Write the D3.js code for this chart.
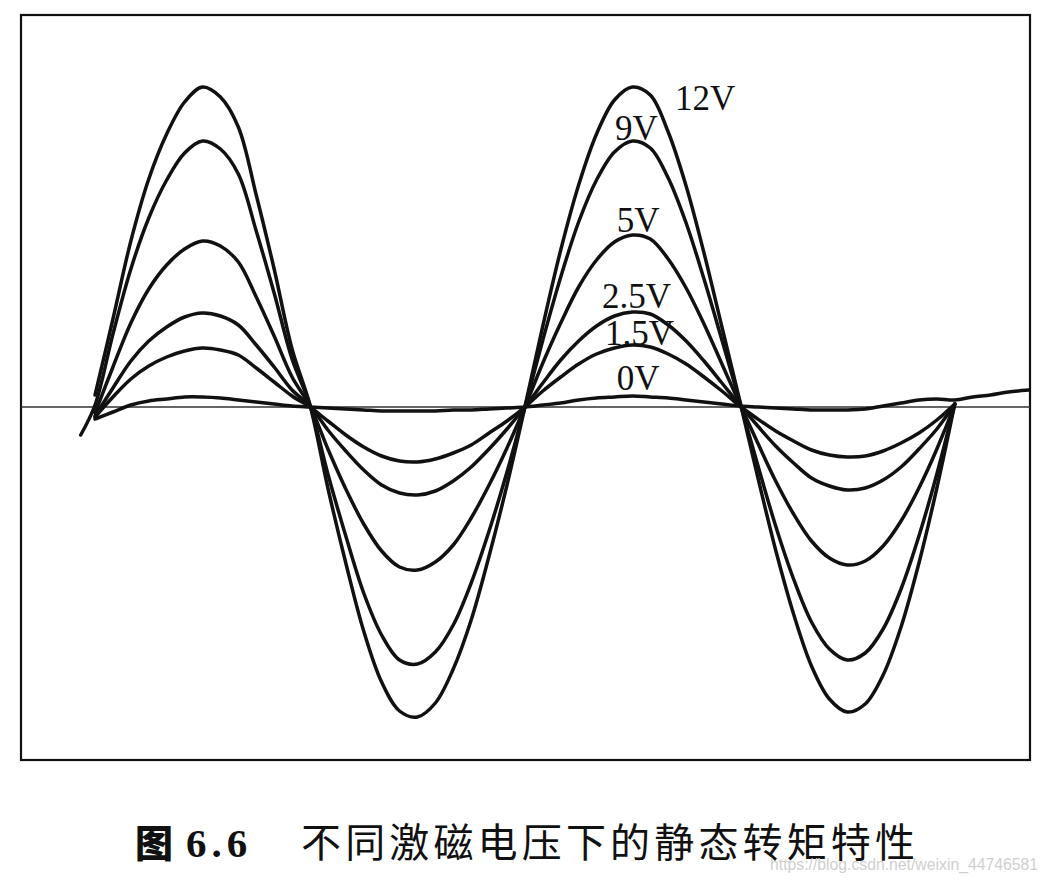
<!DOCTYPE html>
<html>
<head>
<meta charset="utf-8">
<script src="https://cdn.jsdelivr.net/npm/d3@7"></script>
<style>
  html, body { margin: 0; padding: 0; background: #fff; }
  svg { display: block; }
</style>
</head>
<body>
<svg id="chart" width="1047" height="883"></svg>
<script>
// ---- data (rotor angle in electrical degrees, torque in arbitrary units) ----
const angles = [-12, 0, 15, 30, 45, 60, 75, 90, 105, 120, 135, 150, 165, 180,
  195, 210, 225, 240, 255, 270, 285, 300, 315, 330, 345, 360,
  375, 390, 405, 420, 435, 450, 465, 480, 495, 510, 525, 540,
  555, 570, 585, 600, 615, 630, 645, 660, 675, 690, 705, 720,
  735, 750, 765, 782];

const seriesNames = ["12V", "9V", "5V", "2.5V", "1.5V", "0V"];

const torque12V = [null, 0.12, 0.88, 1.66, 2.28, 2.73, 3.05, 3.20, 3.10, 2.80, 2.12, 1.38, 0.58, 0.02,
  -0.81, -1.56, -2.24, -2.75, -3.04, -3.10, -2.96, -2.62, -2.13, -1.49, -0.78, 0.00,
  0.81, 1.57, 2.22, 2.73, 3.07, 3.20, 3.12, 2.75, 2.21, 1.54, 0.80, 0.06,
  -0.70, -1.43, -2.07, -2.59, -2.92, -3.05, -2.97, -2.68, -2.20, -1.56, -0.81, 0.03,
  null, null, null, null];
const torque9V = [-0.28, 0.02, 0.73, 1.38, 1.89, 2.27, 2.54, 2.66, 2.58, 2.33, 1.76, 1.14, 0.48, 0.02,
  -0.67, -1.29, -1.86, -2.28, -2.53, -2.57, -2.45, -2.18, -1.76, -1.24, -0.65, 0.00,
  0.67, 1.30, 1.85, 2.27, 2.55, 2.66, 2.59, 2.29, 1.84, 1.28, 0.67, 0.05,
  -0.58, -1.19, -1.72, -2.15, -2.42, -2.53, -2.46, -2.22, -1.82, -1.29, -0.67, 0.03,
  null, null, null, null];
const torque5V = [null, -0.06, 0.40, 0.84, 1.18, 1.42, 1.58, 1.66, 1.61, 1.45, 1.10, 0.71, 0.30, 0.01,
  -0.42, -0.82, -1.17, -1.44, -1.60, -1.63, -1.55, -1.38, -1.11, -0.78, -0.41, 0.00,
  0.44, 0.84, 1.20, 1.47, 1.65, 1.72, 1.68, 1.48, 1.19, 0.83, 0.43, 0.03,
  -0.36, -0.74, -1.07, -1.34, -1.51, -1.58, -1.54, -1.39, -1.14, -0.81, -0.42, 0.03,
  null, null, null, null];
const torque2_5V = [null, -0.09, 0.19, 0.46, 0.66, 0.80, 0.90, 0.94, 0.91, 0.82, 0.62, 0.40, 0.17, 0.01,
  -0.23, -0.44, -0.63, -0.78, -0.86, -0.88, -0.84, -0.74, -0.60, -0.42, -0.22, 0.00,
  0.24, 0.47, 0.66, 0.81, 0.91, 0.95, 0.93, 0.82, 0.66, 0.46, 0.24, 0.02,
  -0.19, -0.39, -0.56, -0.71, -0.79, -0.83, -0.81, -0.73, -0.60, -0.42, -0.22, 0.03,
  null, null, null, null];
const torque1_5V = [null, -0.10, 0.10, 0.28, 0.41, 0.50, 0.56, 0.59, 0.57, 0.52, 0.39, 0.25, 0.11, 0.00,
  -0.14, -0.28, -0.40, -0.49, -0.54, -0.55, -0.52, -0.46, -0.38, -0.26, -0.14, 0.00,
  0.16, 0.30, 0.43, 0.53, 0.59, 0.62, 0.60, 0.53, 0.43, 0.30, 0.16, 0.01,
  -0.12, -0.24, -0.34, -0.43, -0.48, -0.50, -0.49, -0.44, -0.36, -0.26, -0.13, 0.03,
  null, null, null, null];
const torque0V = [null, -0.12, -0.05, 0.02, 0.06, 0.08, 0.10, 0.10, 0.09, 0.07, 0.05, 0.03, 0.01, 0.00,
  -0.01, -0.02, -0.03, -0.04, -0.04, -0.04, -0.04, -0.03, -0.03, -0.02, -0.01, 0.00,
  0.02, 0.04, 0.07, 0.09, 0.10, 0.11, 0.10, 0.09, 0.07, 0.05, 0.03, 0.01,
  0.00, -0.01, -0.02, -0.03, -0.03, -0.03, -0.02, 0.01, 0.04, 0.07, 0.08, 0.07,
  0.10, 0.12, 0.15, 0.17];

// label anchor points (angle, torque) for the voltage labels
const labelAngles = [485.6, 435.4, 437, 424.5, 427, 437];
const labelTorques = [2.97, 2.67, 1.75, 0.99, 0.62, 0.17];

const xDomain = [-62, 783];
const yDomain = [-3.53, 3.92];

const captionFig = "图";
const captionNum = "6.6";
const captionText = "不同激磁电压下的静态转矩特性";
const watermark = "https://blog.csdn.net/weixin_44746581";

// ---- drawing ----
const svg = d3.select("#chart");
svg.append("rect").attr("width", 1047).attr("height", 883).attr("fill", "#fff");

const x = d3.scaleLinear().domain(xDomain).range([21, 1030]);
const y = d3.scaleLinear().domain(yDomain).range([760, 15]);

// frame
svg.append("rect")
  .attr("x", x(xDomain[0])).attr("y", y(yDomain[1]))
  .attr("width", x(xDomain[1]) - x(xDomain[0]))
  .attr("height", y(yDomain[0]) - y(yDomain[1]))
  .attr("fill", "none").attr("stroke", "#111").attr("stroke-width", 2.2);

// zero line
svg.append("line")
  .attr("x1", x(xDomain[0])).attr("x2", x(xDomain[1]))
  .attr("y1", y(0)).attr("y2", y(0))
  .attr("stroke", "#333").attr("stroke-width", 1.5);

const allSeries = [torque12V, torque9V, torque5V, torque2_5V, torque1_5V, torque0V];

const line = d3.line()
  .x(d => x(d.a))
  .y(d => y(d.v))
  .curve(d3.curveCatmullRom.alpha(0.5));

svg.append("g").selectAll("path")
  .data(allSeries.map((vals, i) => ({ name: seriesNames[i], pts: angles.map((a, j) => ({ a, v: vals[j] })).filter(p => p.v !== null) })))
  .join("path")
  .attr("d", d => line(d.pts))
  .attr("fill", "none")
  .attr("stroke", "#111")
  .attr("stroke-width", 3.5)
  .attr("stroke-linejoin", "round")
  .attr("stroke-linecap", "round");

// labels
svg.append("g").selectAll("text")
  .data(seriesNames)
  .join("text")
  .attr("x", (d, i) => x(labelAngles[i]))
  .attr("y", (d, i) => y(labelTorques[i]))
  .attr("font-family", "'Liberation Serif', 'Times New Roman', serif")
  .attr("font-size", 35)
  .attr("fill", "#111")
  .text(d => d);

// caption
svg.append("text")
  .attr("x", 135).attr("y", 857)
  .attr("font-family", "'Noto Sans CJK SC', sans-serif")
  .attr("font-weight", 900)
  .attr("font-size", 38)
  .attr("fill", "#111")
  .text(captionFig);
svg.append("text")
  .attr("x", 186).attr("y", 857)
  .attr("font-family", "'Liberation Serif', serif")
  .attr("font-weight", "bold")
  .attr("font-size", 41)
  .attr("letter-spacing", 5)
  .attr("fill", "#111")
  .text(captionNum);
svg.append("text")
  .attr("x", 301).attr("y", 857)
  .attr("font-family", "'Noto Sans CJK SC', sans-serif")
  .attr("font-size", 40)
  .attr("textLength", 614)
  .attr("lengthAdjust", "spacing")
  .attr("fill", "#111")
  .text(captionText);

// watermark (sits under the end of the caption, as in the source image)
svg.append("text")
  .attr("x", 770).attr("y", 870)
  .attr("font-family", "'Liberation Sans', Arial, sans-serif")
  .attr("font-size", 17)
  .attr("textLength", 268)
  .attr("lengthAdjust", "spacingAndGlyphs")
  .attr("fill", "#cfcfcf")
  .text(watermark);
</script>
</body>
</html>
